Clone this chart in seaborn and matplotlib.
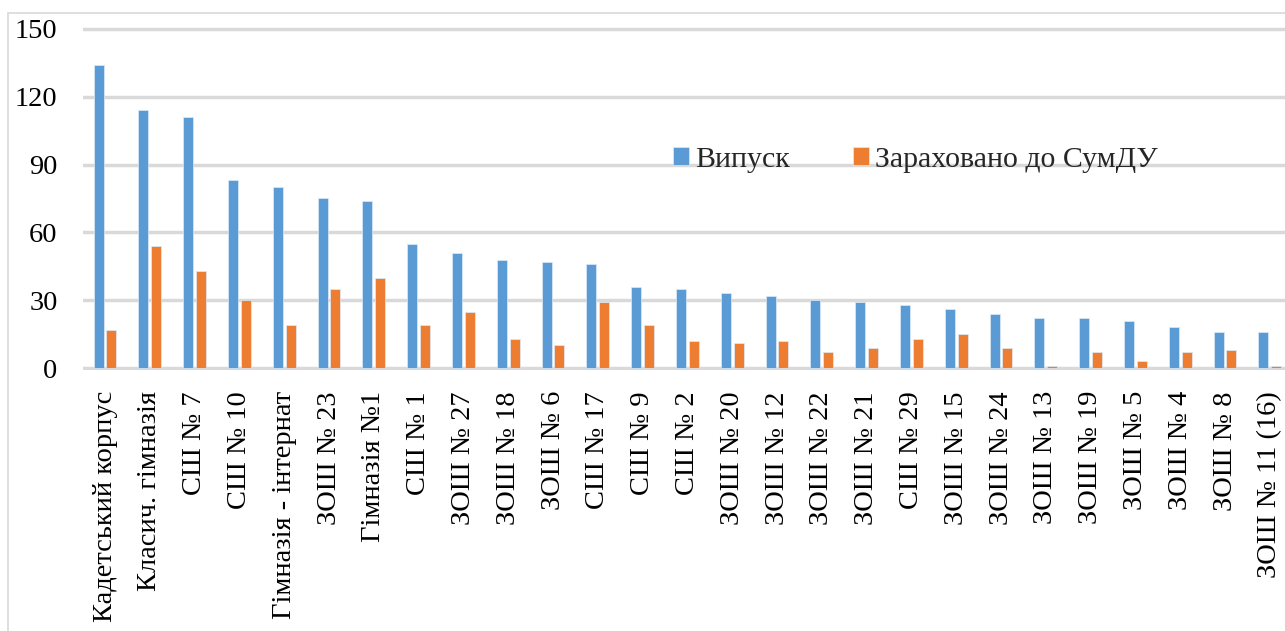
import matplotlib
matplotlib.use("Agg")
import matplotlib.pyplot as plt
import matplotlib.patches as mpatches
import pandas as pd
import seaborn as sns

schools = [
    "Кадетський корпус", "Класич. гімназія", "СШ № 7", "СШ № 10",
    "Гімназія - інтернат", "ЗОШ № 23", "Гімназія №1", "СШ № 1",
    "ЗОШ № 27", "ЗОШ № 18", "ЗОШ № 6", "СШ № 17", "СШ № 9", "СШ № 2",
    "ЗОШ № 20", "ЗОШ № 12", "ЗОШ № 22", "ЗОШ № 21", "СШ № 29",
    "ЗОШ № 15", "ЗОШ № 24", "ЗОШ № 13", "ЗОШ № 19", "ЗОШ № 5",
    "ЗОШ № 4", "ЗОШ № 8", "ЗОШ № 11 (16)",
]
graduates = [134, 114, 111, 83, 80, 75, 74, 55, 51, 48, 47, 46, 36, 35,
             33, 32, 30, 29, 28, 26, 24, 22, 22, 21, 18, 16, 16]
enrolled = [17, 54, 43, 30, 19, 35, 40, 19, 25, 13, 10, 29, 19, 12,
            11, 12, 7, 9, 13, 15, 9, 1, 7, 3, 7, 8, 1]
series_names = ["Випуск", "Зараховано до СумДУ"]
colors = ["#5B9BD5", "#ED7D31"]
y_ticks = [0, 30, 60, 90, 120, 150]

df = pd.DataFrame({
    "school": schools * 2,
    "value": graduates + enrolled,
    "series": [series_names[0]] * len(schools) + [series_names[1]] * len(schools),
})

sns.set_theme(style="white")
plt.rcParams["font.family"] = ["Liberation Serif", "DejaVu Serif"]

W, H = 1285, 631
fig = plt.figure(figsize=(W / 100, H / 100), dpi=100)

# axes geometry in pixels: y=0 at 368px, y=150 at 29px, left edge 82.6px
px_per_unit = (368 - 29) / 150
cat_px = 44.8
y_lo, y_hi = -1, 152
bottom_px = 368 + px_per_unit * (0 - y_lo)
top_px = 29 - px_per_unit * (y_hi - 150)
left_px = 82.6
ax = fig.add_axes([left_px / W, (H - bottom_px) / H,
                   (W - left_px) / W, (bottom_px - top_px) / H])

sns.barplot(data=df, x="school", y="value", hue="series", palette=colors,
            width=0.58, gap=0.23, ax=ax, saturation=1, legend=True,
            edgecolor="#DDEBF7", linewidth=0.5)

ax.set_xlim(-0.5, -0.5 + (W - left_px) / cat_px)
ax.set_ylim(y_lo, y_hi)
ax.set_yticks(y_ticks)
ax.set_yticklabels([str(t) for t in y_ticks], fontsize=20.5, color="black")
for t in y_ticks:
    ax.axhline(t, color="#D9D9D9", linewidth=2.5, zorder=0)

ax.tick_params(axis="y", length=0, pad=18)
ax.tick_params(axis="x", length=0, pad=15)
ax.set_xticks(range(len(schools)))
ax.set_xticklabels(schools, rotation=90, fontsize=20.5, color="black",
                   ha="center", va="top")
ax.set_xlabel("")
ax.set_ylabel("")
for s in ax.spines.values():
    s.set_visible(False)

ax.legend(loc="center left", bbox_to_anchor=(673 / W, 1 - 160 / H),
          bbox_transform=fig.transFigure, ncol=2, frameon=False,
          fontsize=21.5, handlelength=0.55, handleheight=0.55,
          handletextpad=0.2, columnspacing=2.1, borderpad=0, borderaxespad=0)

# outer chart border
fig.patches.append(mpatches.Rectangle((8 / W, -0.1), 1.2, 618 / H + 0.1,
                                      transform=fig.transFigure, fill=False,
                                      edgecolor="#D9D9D9", linewidth=1.2))

fig.savefig("out.png", dpi=100)
plt.close(fig)
